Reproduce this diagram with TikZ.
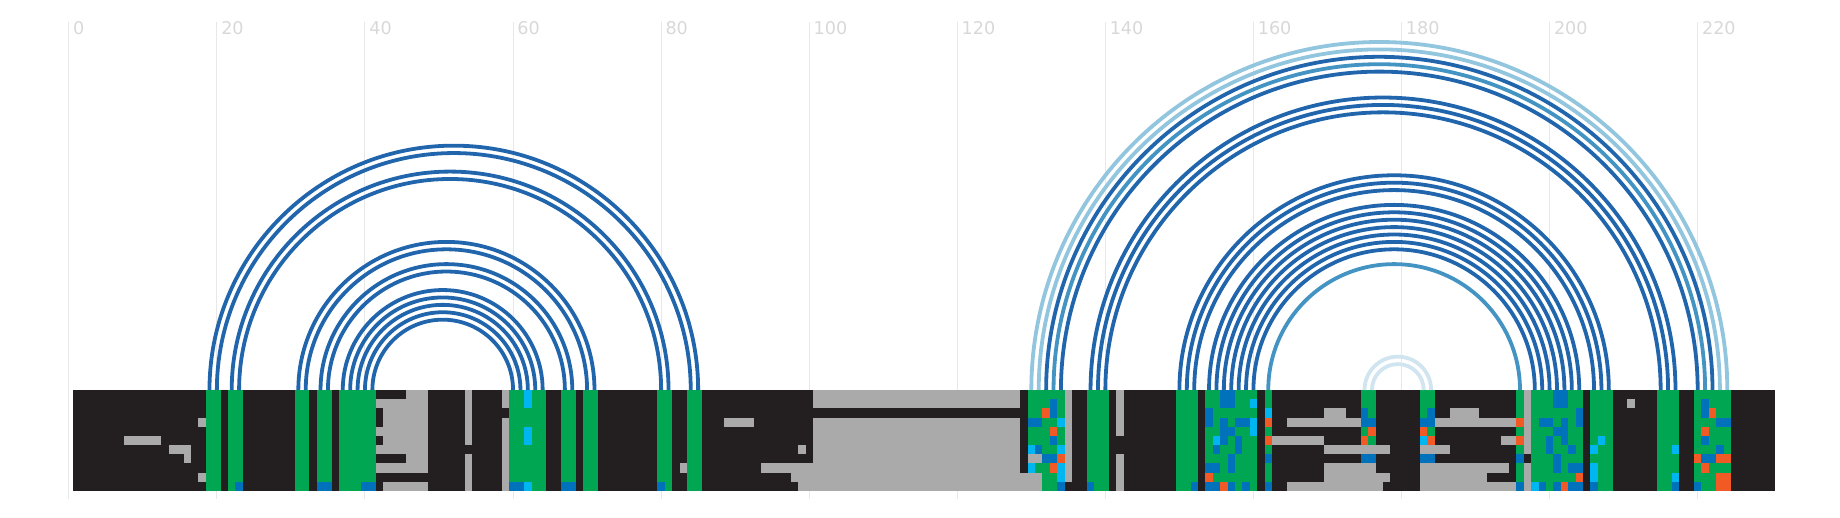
\documentclass[tikz,border=0pt]{standalone}
\usepackage{fontspec}
\setmainfont{DejaVu Sans}
\usepackage{xcolor}
\usetikzlibrary{calc}
\definecolor{rcdark}{HTML}{231F20}
\definecolor{rcgray}{HTML}{AAAAAA}
\definecolor{rcgreen}{HTML}{00A651}
\definecolor{rcblue}{HTML}{0072BC}
\definecolor{rccyan}{HTML}{00B6F0}
\definecolor{rcorange}{HTML}{F15A24}
\definecolor{rcarc}{HTML}{2166AC}
\definecolor{rcarcmid}{HTML}{4393C3}
\definecolor{rcarclight}{HTML}{92C5DE}
\definecolor{rcarcpale}{HTML}{D1E5F0}
\definecolor{rcgrid}{HTML}{E8E8E8}
\definecolor{rclabel}{HTML}{D8D8D8}

\begin{document}
\begin{tikzpicture}[x=0.5pt, y=0.5pt,
  gridline/.style={rcgrid, line width=0.5pt},
  tick/.style={font=\fontsize{8.8pt}{10.5pt}\selectfont, text=rclabel, inner sep=0pt, anchor=base west},
  pair/.style={line width=1.9pt}]
\useasboundingbox (0,0) rectangle (1840,518);

% Column positions along the top of the bar
\foreach \i in {1,...,230} {
  \coordinate (p\i) at (68.8+7.404*\i, 128);
}

% Grid lines and scale
\foreach \k in {0,20,...,220} {
  \draw[gridline] (68.8+7.404*\k, 496) -- (68.8+7.404*\k, 19);
  \node[tick] (t\k) at (72.8+7.404*\k, 483) {\k};
}

% Alignment bar (one cell per column, 11 rows)
\begin{scope}[shift={(34.4pt,64pt)}, x=3.702pt, y=-4.585pt]
\fill[rcdark] (0.5,0) rectangle (230.5,11);
% Green columns
\foreach \ca/\cb in {19/20, 22/23, 31/32, 34/35, 37/41, 60/64, 67/68, 70/71, 80/81, 84/85,
  130/134, 138/140, 150/152, 154/160, 162/162, 175/176, 183/184, 196/196, 198/204,
  206/208, 215/217, 220/224} {
  \fill[rcgreen] (\ca-0.5,0) rectangle (\cb+0.5,11);
}
% Gaps
\foreach \ca/\cb/\ra/\rb in {18/18/4/4, 18/18/10/10, 8/12/6/6, 14/16/7/7, 16/16/8/8,
  46/48/1/9, 43/45/2/7, 42/42/2/2, 42/42/5/5, 42/42/7/7, 42/45/9/9, 43/48/11/11,
  54/54/1/6, 54/54/8/11, 59/59/1/2, 59/59/4/11,
  83/83/9/9, 89/92/4/4, 99/99/7/7, 94/100/9/9, 98/100/10/10, 99/100/11/11,
  101/128/1/2, 101/128/4/11, 129/131/10/11, 130/131/8/8, 135/135/1/10,
  142/142/1/5, 142/142/8/11,
  165/174/4/4, 163/169/6/6, 170/172/3/3, 170/178/7/7, 170/176/9/9, 170/178/10/10,
  165/177/11/11, 187/190/3/3, 185/195/4/4, 194/195/6/6, 183/186/7/7, 183/194/9/9,
  183/191/10/10, 183/195/11/11, 197/197/1/7, 197/197/9/11, 211/211/2/2} {
  \fill[rcgray] (\ca-0.5,\ra-1) rectangle (\cb+0.5,\rb);
}
% Blue cells
\foreach \ca/\cb/\ra/\rb in {23/23/11/11, 34/35/11/11, 40/41/11/11, 60/61/11/11,
  67/68/11/11, 80/80/11/11,
  133/133/2/3, 130/131/4/4, 133/133/6/6, 131/131/7/7, 132/133/8/8, 134/134/11/11,
  138/138/11/11, 152/152/11/11,
  156/157/1/2, 154/154/3/4, 156/156/4/6, 157/157/5/5, 158/159/4/4, 158/158/6/7,
  155/155/7/7, 157/157/8/9, 154/155/9/9, 154/155/11/11, 157/157/11/11, 159/159/11/11,
  162/162/8/8, 162/162/11/11,
  175/175/3/3, 175/176/4/4, 175/176/8/8, 184/184/3/3, 183/184/4/4, 183/184/8/8,
  196/196/8/8, 196/196/11/11,
  201/202/1/2, 204/204/3/4, 199/200/4/4, 202/202/4/4, 201/202/5/5, 200/200/6/7,
  202/202/6/6, 203/203/7/7, 201/201/8/9, 203/204/9/9, 199/199/11/11, 201/201/11/11,
  203/204/11/11, 206/206/11/11, 217/217/11/11,
  221/221/2/3, 223/224/4/4, 221/221/6/6, 223/223/7/7, 221/222/8/8, 220/220/11/11} {
  \fill[rcblue] (\ca-0.5,\ra-1) rectangle (\cb+0.5,\rb);
}
% Cyan cells
\foreach \ca/\cb/\ra/\rb in {62/62/1/2, 62/62/5/6, 62/62/11/11, 134/134/4/4,
  130/130/7/7, 134/134/7/7, 130/130/9/9, 134/134/9/10, 160/160/2/2, 160/160/4/5,
  155/155/6/6, 162/162/3/3, 183/183/6/6, 198/198/11/11, 207/207/6/6, 206/206/7/7,
  206/206/9/10, 217/217/7/7, 217/217/10/10} {
  \fill[rccyan] (\ca-0.5,\ra-1) rectangle (\cb+0.5,\rb);
}
% Orange cells
\foreach \ca/\cb/\ra/\rb in {132/132/3/3, 133/133/5/5, 134/134/8/8, 133/133/9/9,
  154/154/10/10, 156/156/11/11, 162/162/4/4, 162/162/6/6, 176/176/5/5, 175/175/6/6,
  183/183/5/5, 184/184/6/6, 196/196/4/4, 196/196/6/6, 204/204/10/10, 202/202/11/11,
  222/222/3/3, 221/221/5/5, 220/220/8/8, 223/224/8/8, 221/221/9/9, 223/224/10/11} {
  \fill[rcorange] (\ca-0.5,\ra-1) rectangle (\cb+0.5,\rb);
}
\end{scope}

% Base pairs
\foreach \a/\b in {19/85, 20/84, 22/81, 23/80, 31/71, 32/70, 34/68, 35/67,
  37/64, 38/63, 39/62, 40/61, 41/60, 132/222, 134/220, 138/217, 139/216, 140/215,
  150/208, 151/207, 152/206, 154/204, 155/203, 156/202, 157/201, 158/200, 159/199, 160/198} {
  \draw[pair, rcarc] (p\a) arc[start angle=180, end angle=0, radius=3.702*(\b-\a)];
}
\foreach \a/\b in {133/221, 162/196} {
  \draw[pair, rcarcmid] (p\a) arc[start angle=180, end angle=0, radius=3.702*(\b-\a)];
}
\foreach \a/\b in {130/224, 131/223} {
  \draw[pair, rcarclight] (p\a) arc[start angle=180, end angle=0, radius=3.702*(\b-\a)];
}
\foreach \a/\b in {175/184, 176/183} {
  \draw[pair, rcarcpale] (p\a) arc[start angle=180, end angle=0, radius=3.702*(\b-\a)];
}

\end{tikzpicture}
\end{document}
